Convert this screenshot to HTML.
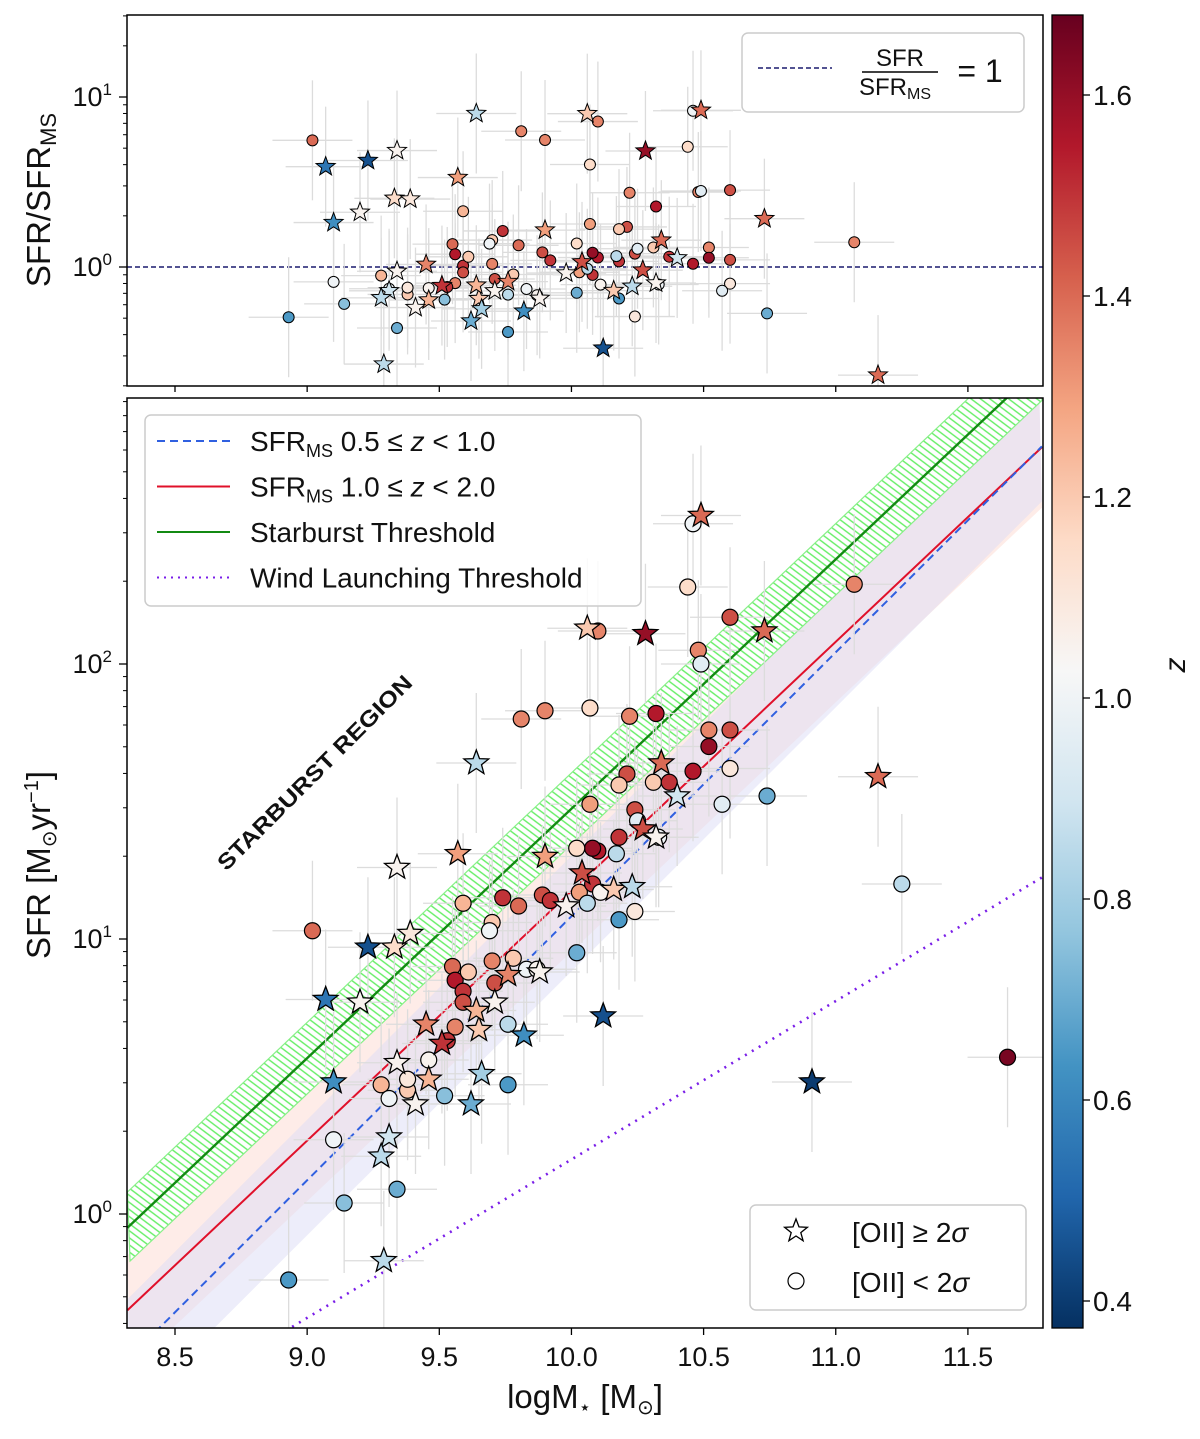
<!DOCTYPE html>
<html><head><meta charset="utf-8"><style>
body{margin:0;background:#fff;}
svg text{font-family:"Liberation Sans","DejaVu Sans",sans-serif;fill:#111;}
</style></head><body>
<svg id="fig" width="1200" height="1434" viewBox="0 0 1200 1434" xmlns="http://www.w3.org/2000/svg">
<defs>
<clipPath id="cb"><rect x="127" y="398" width="916" height="930"/></clipPath>
<clipPath id="ct"><rect x="127" y="15" width="916" height="371"/></clipPath>
<pattern id="hatch" width="8" height="8" patternUnits="userSpaceOnUse" patternTransform="rotate(-8)"><line x1="0" y1="0" x2="8" y2="8" stroke="#66ee66" stroke-width="1.4"/><line x1="-4" y1="4" x2="4" y2="12" stroke="#66ee66" stroke-width="1.4"/><line x1="4" y1="-4" x2="12" y2="4" stroke="#66ee66" stroke-width="1.4"/></pattern>
<linearGradient id="cgrad" x1="0" y1="1" x2="0" y2="0">
<stop offset="0" stop-color="#053061"/><stop offset="0.1" stop-color="#2166ac"/><stop offset="0.2" stop-color="#4393c3"/><stop offset="0.3" stop-color="#92c5de"/><stop offset="0.4" stop-color="#d1e5f0"/><stop offset="0.5" stop-color="#f7f7f7"/><stop offset="0.6" stop-color="#fddbc7"/><stop offset="0.7" stop-color="#f4a582"/><stop offset="0.8" stop-color="#d6604d"/><stop offset="0.9" stop-color="#b2182b"/><stop offset="1" stop-color="#67001f"/>
</linearGradient>
</defs>
<g id="bottom-bg" clip-path="url(#cb)"></g>
<g id="top-bg" clip-path="url(#ct)"></g>
<g id="axes"></g>
</svg>
<script>
// data: stars ([OII] >= 2sigma)
const starMass=[10.49,10.06,10.28,10.73,9.64,10.34,10.40,11.16,9.57,9.90,9.34,10.27,10.32,10.04,10.16,9.98,10.23,9.23,9.33,9.39,9.07,9.20,9.45,9.51,9.65,9.71,9.64,9.76,9.88,9.82,10.12,9.34,9.10,9.46,9.41,9.66,9.62,9.31,9.28,9.29,10.91];
const starLogSFR=[2.54,2.13,2.11,2.12,1.64,1.64,1.52,1.59,1.31,1.30,1.26,1.40,1.37,1.24,1.18,1.12,1.19,0.97,0.97,1.02,0.78,0.77,0.69,0.62,0.67,0.77,0.74,0.87,0.88,0.65,0.72,0.55,0.48,0.49,0.40,0.51,0.40,0.28,0.21,-0.17,0.48];
const starZ=[1.4,1.2,1.6,1.4,0.85,1.4,0.9,1.4,1.3,1.3,1.05,1.45,1.05,1.45,1.2,1.05,0.85,0.45,1.15,1.1,0.55,1.05,1.35,1.5,1.2,1.05,1.25,1.35,1.05,0.62,0.45,1.05,0.62,1.25,1.05,0.8,0.7,0.9,0.85,0.85,0.4];
// circles ([OII] < 2sigma)
const circMass=[10.46,10.44,10.10,11.07,10.48,10.60,10.49,9.81,9.90,10.07,10.22,10.32,10.60,10.52,10.52,10.60,10.57,10.74,10.21,10.31,10.37,10.46,10.07,10.18,10.24,10.25,10.18,10.10,10.08,10.17,10.02,10.33,9.74,9.70,9.59,9.80,9.89,9.92,10.03,10.08,10.11,10.06,10.24,10.18,9.02,9.55,9.56,9.70,9.78,9.71,9.59,9.61,9.59,9.83,10.02,9.56,9.53,9.46,9.28,9.31,9.38,9.38,9.52,9.76,9.76,9.10,9.14,9.34,8.93,11.25,11.65,9.87,9.69];
const circLogSFR=[2.51,2.28,2.12,2.29,2.05,2.17,2.00,1.80,1.83,1.84,1.81,1.82,1.76,1.76,1.70,1.62,1.49,1.52,1.60,1.57,1.57,1.61,1.49,1.56,1.47,1.43,1.37,1.32,1.33,1.31,1.33,1.37,1.15,1.06,1.13,1.12,1.16,1.14,1.17,1.20,1.17,1.13,1.10,1.07,1.03,0.90,0.85,0.92,0.93,0.84,0.81,0.88,0.77,0.89,0.95,0.68,0.63,0.56,0.47,0.42,0.45,0.49,0.43,0.47,0.69,0.27,0.04,0.09,-0.24,1.20,0.57,0.89,1.03];
const circZ=[1.0,1.15,1.35,1.35,1.35,1.45,0.95,1.35,1.35,1.15,1.35,1.55,1.45,1.35,1.6,1.1,0.95,0.7,1.45,1.2,1.5,1.55,1.3,1.2,1.45,0.95,1.5,1.55,1.6,0.85,1.15,1.0,1.5,1.2,1.25,1.4,1.45,1.5,1.3,1.5,1.05,0.85,1.1,0.65,1.4,1.4,1.55,1.35,1.2,1.45,1.5,1.2,1.45,1.0,0.7,1.35,1.5,1.05,1.25,1.0,1.2,1.1,0.75,0.65,0.85,1.0,0.75,0.7,0.65,0.85,1.65,1.05,1.0];
const xTicks=[8.5,9.0,9.5,10.0,10.5,11.0,11.5];
const zTicks=[0.4,0.6,0.8,1.0,1.2,1.4,1.6];

const NS='http://www.w3.org/2000/svg';
const X0=127,X1=1043,MMIN=8.32,MMAX=11.78;
const xs=m=>175+(m-8.5)*264.3;
const yb=l=>1214-l*275;
const yt=l=>267-l*170;
const yc=z=>1301-(z-0.4)*1005;
const msBlue=m=>-0.415+0.96*(m-8.44);
const msRed=m=>-0.35+0.907*(m-8.32);
const wind=m=>-0.415+0.576*(m-8.935);
const stops=[[5,48,97],[33,102,172],[67,147,195],[146,197,222],[209,229,240],[247,247,247],[253,219,199],[244,165,130],[214,96,77],[178,24,43],[103,0,31]];
function cmap(z){let t=(z-0.373)/(1.68-0.373);t=Math.max(0,Math.min(1,t))*10;const i=Math.min(9,Math.floor(t)),f=t-i;const a=stops[i],b=stops[i+1];return `rgb(${a.map((v,k)=>Math.round(v+(b[k]-v)*f)).join(',')})`;}
function el(tag,attrs,parent){const e=document.createElementNS(NS,tag);for(const k in attrs)e.setAttribute(k,attrs[k]);parent.appendChild(e);return e;}
function starPts(cx,cy,R){const r=R*0.42;let p=[];for(let i=0;i<10;i++){const a=-Math.PI/2+i*Math.PI/5;const rr=i%2?r:R;p.push((cx+rr*Math.cos(a)).toFixed(1)+','+(cy+rr*Math.sin(a)).toFixed(1));}return p.join(' ');}
const B=document.getElementById('bottom-bg'),T=document.getElementById('top-bg'),A=document.getElementById('axes');

function band(f,lo,hi,fill,op,name){let p=[];for(let m=MMIN;m<=MMAX+0.01;m+=0.05)p.push(xs(m)+','+yb(f(m)+hi));for(let m=MMAX;m>=MMIN-0.01;m-=0.05)p.push(xs(m)+','+yb(f(m)+lo));const e=el('polygon',{points:p.join(' '),fill:fill,'fill-opacity':op},B);

return e;}
band(msRed,-0.22,0.2,'#fde0d8',0.6,'ms-high-z-band');
band(msBlue,-0.2,0.22,'#dcdcf6',0.5,'ms-low-z-band');
band(m=>msRed(m)+0.3,-0.13,0.13,'#ffffff',1,'starburst-band-bg');
band(m=>msRed(m)+0.3,-0.13,0.13,'url(#hatch)',1,'starburst-band');
const sbE=band(m=>msRed(m)+0.3,-0.13,0.13,'none',1,'starburst-band-edge');sbE.setAttribute('stroke','#88f088');sbE.setAttribute('stroke-width','1.2');
function line(f,col,w,dash,name){const e=el('line',{x1:xs(MMIN),y1:yb(f(MMIN)),x2:xs(MMAX),y2:yb(f(MMAX)),stroke:col,'stroke-width':w},B);if(dash)e.setAttribute('stroke-dasharray',dash);

}
line(msRed,'#e0102a',2,null,'ms-high-z-line');
line(msBlue,'#3060e0',2,'8,5','ms-low-z-line');
line(m=>msRed(m)+0.3,'#138a13',2.4,null,'starburst-threshold-line');
line(wind,'#7a1ee8',2.6,'2,6','wind-threshold-line');
const rl=el('line',{x1:X0,y1:yt(0),x2:X1,y2:yt(0),stroke:'#1a1a6e','stroke-width':1.5,'stroke-dasharray':'5,3'},T);



function ratio(m,l,z){return l-(z<1?msBlue(m):msRed(m));}
function errbars(g,x,y,dx,dy){el('line',{x1:x-dx,y1:y,x2:x+dx,y2:y,stroke:'#dcdcdc','stroke-width':1.3},g);el('line',{x1:x,y1:y-dy,x2:x,y2:y+dy,stroke:'#dcdcdc','stroke-width':1.3},g);}
const eb=el('g',{},B),et=el('g',{},T);
const mb=el('g',{},B),mt=el('g',{},T);
function drawAll(M,L,Z,isStar){for(let i=0;i<M.length;i++){const x=xs(M[i]),y=yb(L[i]),yy=yt(ratio(M[i],L[i],Z[i]));errbars(eb,x,y,40,70);errbars(et,x,yy,40,60);const c=cmap(Z[i]);let a,b;
if(isStar){a=el('polygon',{points:starPts(x,y,13),fill:c,stroke:'#000','stroke-width':1.3},mb);b=el('polygon',{points:starPts(x,yy,10),fill:c,stroke:'#000','stroke-width':1},mt);}
else{a=el('circle',{cx:x,cy:y,r:8,fill:c,stroke:'#000','stroke-width':1.2},mb);b=el('circle',{cx:x,cy:yy,r:5.5,fill:c,stroke:'#000','stroke-width':1},mt);}



}}
drawAll(circMass,circLogSFR,circZ,false);
drawAll(starMass,starLogSFR,starZ,true);

function rect(x,y,w,h,name){const e=el('rect',{x:x,y:y,width:w,height:h,fill:'none',stroke:'#000','stroke-width':1.5},A);

}
rect(127,15,916,371,'top-panel-frame');rect(127,398,916,930,'bottom-panel-frame');
function txt(x,y,s,size,anchor,parent,name,extra){const e=el('text',Object.assign({x:x,y:y,'font-size':size,'text-anchor':anchor||'middle'},extra||{}),parent||A);e.innerHTML=s;

return e;}
xTicks.forEach(v=>{const x=xs(v);el('line',{x1:x,y1:1328,x2:x,y2:1335,stroke:'#000','stroke-width':1.3},A);el('line',{x1:x,y1:386,x2:x,y2:392,stroke:'#000','stroke-width':1.3},A);
txt(x,1366,v.toFixed(1),27,'middle',A,'x-tick-label');});
for(let d=-1;d<=2;d++){for(let k=1;k<10;k++){const l=d+Math.log10(k),y=yb(l);if(y<398||y>1328)continue;el('line',{x1:127,y1:y,x2:k==1?119:123,y2:y,stroke:'#000','stroke-width':k==1?1.3:1},A);
if(k==1)txt(112,y+9,'10<tspan font-size="17" dy="-11">'+d+'</tspan>',27,'end',A,'y-tick-label');}}
for(let d=-1;d<=1;d++){for(let k=1;k<10;k++){const l=d+Math.log10(k),y=yt(l);if(y<15||y>386)continue;el('line',{x1:127,y1:y,x2:k==1?119:123,y2:y,stroke:'#000','stroke-width':k==1?1.3:1},A);
if(k==1)txt(112,y+9,'10<tspan font-size="17" dy="-11">'+d+'</tspan>',27,'end',A,'top-y-tick-label');}}
txt(585,1408,'logM<tspan font-size="20" dy="6">⋆</tspan><tspan dy="-6"> [M</tspan><tspan font-size="20" dy="6">⊙</tspan><tspan dy="-6">]</tspan>',33,'middle',A,'x-axis-title');
txt(0,0,'SFR [M<tspan font-size="20" dy="6">⊙</tspan><tspan dy="-6">yr</tspan><tspan font-size="20" dy="-12">−1</tspan><tspan dy="12">]</tspan>',33,'middle',A,'y-axis-title',{transform:'translate(50,865) rotate(-90)'});
txt(0,0,'SFR/SFR<tspan font-size="22" dy="6">MS</tspan>',33,'middle',A,'top-y-axis-title',{transform:'translate(50,200) rotate(-90)'});
txt(0,0,'STARBURST REGION',22,'middle',A,'starburst-region-label',{transform:'translate(320,778) rotate(-45)','font-weight':'bold',textLength:'265',lengthAdjust:'spacingAndGlyphs'});
const cbr=el('rect',{x:1052,y:15,width:31,height:1313,fill:'url(#cgrad)',stroke:'#000','stroke-width':1.3},A);


zTicks.forEach(v=>{const y=yc(v);el('line',{x1:1083,y1:y,x2:1090,y2:y,stroke:'#000','stroke-width':1.3},A);txt(1093,y+10,v.toFixed(1),28,'start',A,'colorbar-tick-label');});
txt(0,0,'z',30,'middle',A,'colorbar-title',{transform:'translate(1185,665) rotate(-90)','font-style':'italic'});
function box(x,y,w,h,name){const e=el('rect',{x:x,y:y,width:w,height:h,rx:6,fill:'#fff','fill-opacity':0.85,stroke:'#ccc','stroke-width':1.5},A);

}
box(742,33,282,79,'top-legend');
el('line',{x1:758,y1:68,x2:832,y2:68,stroke:'#1a1a6e','stroke-width':1.5,'stroke-dasharray':'5,3'},A);
txt(900,66,'SFR',24,'middle',A,'legend-fraction-num');
el('line',{x1:862,y1:72,x2:938,y2:72,stroke:'#000','stroke-width':1.5},A);
txt(895,95,'SFR<tspan font-size="16" dy="4">MS</tspan>',24,'middle',A,'legend-fraction-den');
txt(980,82,'= 1',32,'middle',A,'legend-equals-one');
box(145,415,496,191,'bottom-left-legend');
const lg=[['#3060e0','8,5',null,'SFR<tspan font-size="18" dy="6">MS</tspan><tspan dy="-6"> 0.5 ≤ </tspan><tspan font-style="italic">z</tspan> &lt; 1.0'],['#e0102a',null,null,'SFR<tspan font-size="18" dy="6">MS</tspan><tspan dy="-6"> 1.0 ≤ </tspan><tspan font-style="italic">z</tspan> &lt; 2.0'],['#138a13',null,null,'Starburst Threshold'],['#7a1ee8','2,5',null,'Wind Launching Threshold']];
lg.forEach((r,i)=>{const y=441+i*45.5;const l=el('line',{x1:157,y1:y,x2:230,y2:y,stroke:r[0],'stroke-width':2},A);if(r[1])l.setAttribute('stroke-dasharray',r[1]);txt(250,y+10,r[3],28,'start',A,'legend-entry');});
box(750,1205,276,105,'bottom-right-legend');
el('polygon',{points:starPts(796,1231,12),fill:'#fff',stroke:'#000','stroke-width':1.3},A);
el('circle',{cx:796,cy:1281,r:8,fill:'#fff',stroke:'#000','stroke-width':1.2},A);
txt(852,1242,'[OII] ≥  2<tspan font-style="italic">σ</tspan>',28,'start',A,'legend-entry-star');
txt(852,1292,'[OII] &lt;  2<tspan font-style="italic">σ</tspan>',28,'start',A,'legend-entry-circle');
</script>
</body></html>
